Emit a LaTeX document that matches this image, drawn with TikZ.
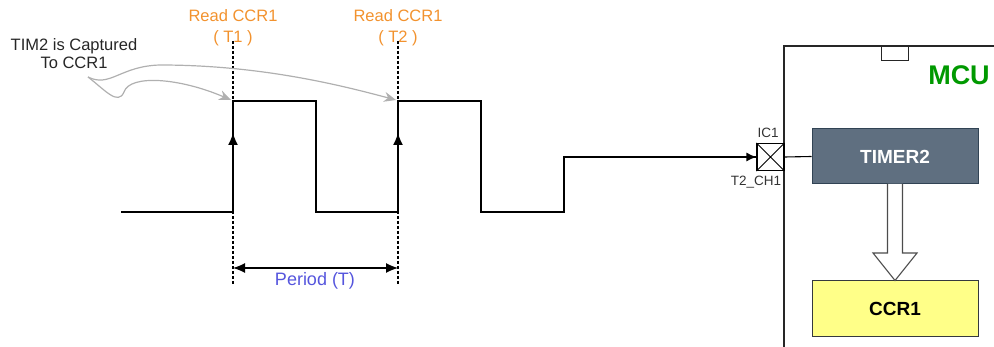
\documentclass[tikz,border=0pt]{standalone}
\usepackage{fontspec}
\setmainfont{Liberation Sans}
\usetikzlibrary{arrows.meta}
\definecolor{readorange}{HTML}{F2922E}
\definecolor{periodblue}{HTML}{5555DD}
\definecolor{mcugreen}{HTML}{009900}
\definecolor{timerfill}{HTML}{5F6F80}
\definecolor{timerline}{HTML}{314354}
\definecolor{ccrfill}{HTML}{FFFF88}
\definecolor{ccrline}{HTML}{36393D}
\definecolor{curvegray}{HTML}{B0B0B0}
\tikzset{tipb/.tip={Latex[length=12pt,width=10pt]}}
\begin{document}
\begin{tikzpicture}[x=1pt,y=-1pt,
  lbl/.style={inner sep=0pt, align=center},
  readlbl/.style={lbl, text=readorange, font=\fontsize{16.5}{21}\selectfont},
  wave/.style={line width=1.4pt, black},
  guide/.style={line width=1.1pt, dash pattern=on 3pt off 2pt},
  capcurve/.style={curvegray, line width=1.2pt, -{Stealth[length=12pt,width=10pt]}},
  block/.style={draw, line width=1pt, minimum width=166pt, inner sep=0pt, font=\bfseries\fontsize{19}{22}\selectfont}
]
\useasboundingbox (0,0) rectangle (994,347);

% texts
\node[readlbl] (rd1) at (233,28) {Read CCR1\\( T1 )};
\node[readlbl] (rd2) at (398,28) {Read CCR1\\( T2 )};
\node[lbl, font=\fontsize{16.5}{18}\selectfont, text=black!85] (tim) at (74,54) {TIM2 is Captured\\To CCR1};

% dashed guides
\coordinate (g1t) at (233,41); \coordinate (g1b) at (233,284);
\coordinate (g2t) at (398,41); \coordinate (g2b) at (398,284);
\draw[guide] (g1t) -- (g1b);
\draw[guide] (g2t) -- (g2b);

% waveform
\coordinate (w0) at (121,212);
\coordinate (w1) at (233,212); \coordinate (w2) at (233,101);
\coordinate (w3) at (316,101); \coordinate (w4) at (316,212);
\coordinate (w5) at (398,212); \coordinate (w6) at (398,101);
\coordinate (w7) at (481,101); \coordinate (w8) at (481,212);
\coordinate (w9) at (564,212); \coordinate (w10) at (564,157);

% MCU
\draw[line width=1.1pt, black!85] (994,46) -- (784,46) -- (784,347);
\node[draw, line width=1.1pt, black!85, fill=white, minimum width=27pt, minimum height=14pt, inner sep=0pt, anchor=north west] (pin) at (881,46) {};
\node[lbl, font=\bfseries\fontsize{27}{30}\selectfont, text=mcugreen] (mcu) at (959,75) {MCU};

% IC1 box
\node[draw, line width=1.1pt, fill=white, minimum size=27pt, inner sep=0pt] (ic) at (770.5,157) {};
\draw[line width=0.8pt] (ic.north west) -- (ic.south east) (ic.north east) -- (ic.south west);
\node[lbl, font=\fontsize{13.5}{15}\selectfont, text=black!80] (iclbl) at (768,133) {IC1};
\node[lbl, font=\fontsize{13.5}{15}\selectfont, text=black!80] (chlbl) at (756,182) {T2\_CH1};

\draw[wave] (w0) -- (w1) -- (w2) -- (w3) -- (w4) -- (w5) -- (w6) -- (w7) -- (w8) -- (w9) -- (w10) -- (w10 -| ic.west);
\draw[wave, -{Latex[length=10pt,width=9pt]}] (w10 -| 740,0) -- (ic.west);
\draw[wave, -tipb] (w1) -- (233,133);
\draw[wave, -tipb] (w5) -- (398,133);

% timer and ccr
\node[block, fill=timerfill, draw=timerline, text=white, minimum height=55pt] (timer) at (895,156.5) {TIMER2};
\node[block, fill=ccrfill, draw=ccrline, text=black, minimum height=56pt] (ccr) at (895,309) {CCR1};
\draw[line width=1.1pt] (ic.east) -- (timer.west);

% block arrow
\draw[line width=1.1pt, black!70, fill=white]
  (887.5,184) -- (887.5,253) -- (873,253) -- (ccr.north) -- (917,253) -- (902.5,253) -- (902.5,184);

% period
\coordinate (p1) at (233,268); \coordinate (p2) at (398,268);
\draw[line width=1.2pt, tipb-tipb] (p1) -- (p2);
\node[lbl, text=periodblue, font=\fontsize{18}{20}\selectfont] (period) at (315,281) {Period (T)};

% capture curves
\coordinate (cs) at (88,77);
\draw[capcurve] (cs) .. controls (105,90) and (118,106) .. (124,92) .. controls (130,74) and (180,78) .. (231,100);
\draw[capcurve] (cs) .. controls (110,88) and (120,66) .. (160,65) .. controls (260,65) and (340,85) .. (396,100);
\end{tikzpicture}
\end{document}
